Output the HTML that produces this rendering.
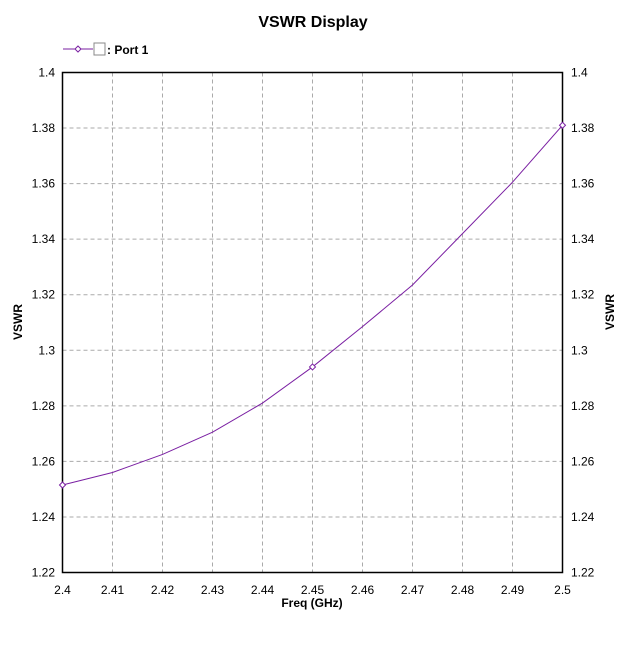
<!DOCTYPE html>
<html><head><meta charset="utf-8"><style>
body{margin:0;background:#fff;width:643px;height:656px;overflow:hidden}
svg text{font-family:"Liberation Sans",Arial,sans-serif}
</style></head><body>
<svg id="chart" width="643" height="656" xmlns="http://www.w3.org/2000/svg">
<text x="313" y="27" font-size="16" font-weight="bold" text-anchor="middle">VSWR Display</text>
<g>
<line x1="63" y1="49" x2="93" y2="49" stroke="#7a1fa2" stroke-width="1"/>
<path d="M78 46 L81 49 L78 52 L75 49 Z" fill="#fff" stroke="#7a1fa2"/>
<rect x="94" y="43" width="11" height="12" fill="#fff" stroke="#888"/>
<text x="107" y="54" font-size="12" font-weight="bold">: Port 1</text>
</g>
<g id="grid"></g>
<rect x="62.5" y="72.5" width="500" height="500" fill="none" stroke="#000" stroke-width="1.5"/>
<g id="ticks"></g>
<path id="curve" fill="none" stroke="#7a1fa2" stroke-width="1"/>
<g id="markers"></g>
<text x="312" y="607" font-size="12" font-weight="bold" text-anchor="middle">Freq (GHz)</text>
<text x="22" y="322" font-size="12" font-weight="bold" text-anchor="middle" transform="rotate(-90 22 322)">VSWR</text>
<text x="614" y="312" font-size="12" font-weight="bold" text-anchor="middle" transform="rotate(-90 614 312)">VSWR</text>
</svg>
<script>
const freqs=[2.4,2.41,2.42,2.43,2.44,2.45,2.46,2.47,2.48,2.49,2.5];
const vswr=[1.2515,1.256,1.2625,1.2705,1.281,1.294,1.3085,1.3235,1.342,1.3605,1.381];
const markerFreqs=[2.4,2.45,2.5];
const markerVals=[1.2515,1.294,1.381];
const xTicks=[2.4,2.41,2.42,2.43,2.44,2.45,2.46,2.47,2.48,2.49,2.5];
const yTicks=[1.22,1.24,1.26,1.28,1.3,1.32,1.34,1.36,1.38,1.4];
const X=v=>62.5+(v-2.4)/0.1*500;
const Y=v=>572.5-(v-1.22)/0.18*500;
const NS="http://www.w3.org/2000/svg";
const grid=document.getElementById('grid'),ticks=document.getElementById('ticks');
function mk(tag,at,parent){const e=document.createElementNS(NS,tag);for(const k in at)e.setAttribute(k,at[k]);parent.appendChild(e);return e;}
xTicks.forEach(t=>{
 const l=mk('line',{x1:X(t),x2:X(t),y1:72.5,y2:572.5,stroke:'#aaa','stroke-dasharray':'4,3'},grid);
 
 
 const tx=mk('text',{x:X(t),y:594,'font-size':12,'text-anchor':'middle'},ticks);
 
 
 tx.textContent=String(t);
});
yTicks.forEach(t=>{
 const l=mk('line',{x1:62.5,x2:562.5,y1:Y(t),y2:Y(t),stroke:'#aaa','stroke-dasharray':'4,3'},grid);
 
 
 const a=mk('text',{x:55,y:Y(t)+4,'font-size':12,'text-anchor':'end'},ticks);
 
 
 a.textContent=String(t);
 const b=mk('text',{x:571,y:Y(t)+4,'font-size':12,'text-anchor':'start'},ticks);
 
 
 b.textContent=String(t);
});
document.getElementById('curve').setAttribute('d',freqs.map((f,i)=>(i?'L':'M')+X(f)+' '+Y(vswr[i])).join(' '));
const mg=document.getElementById('markers');
markerFreqs.forEach((f,i)=>{
 const x=X(f),y=Y(markerVals[i]);
 const p=mk('path',{d:`M${x} ${y-3} L${x+3} ${y} L${x} ${y+3} L${x-3} ${y} Z`,fill:'#fff',stroke:'#7a1fa2'},mg);
 
 
});
</script>
</body></html>
